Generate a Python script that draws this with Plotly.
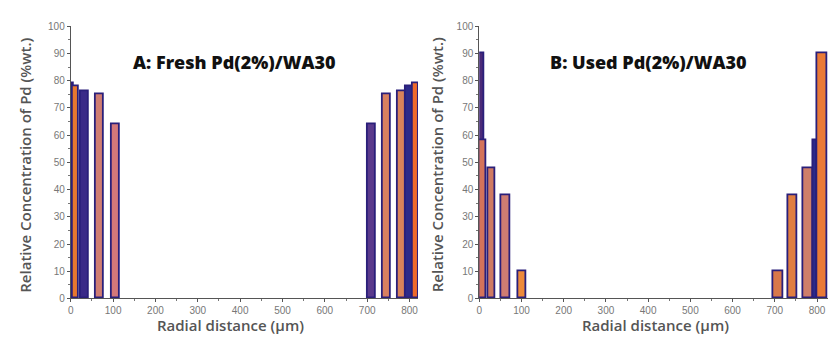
import plotly.graph_objects as go

# Radial Pd profiles across the pellet (µm) and relative Pd concentration (%wt.)
fresh_r = [3, 12, 33, 68, 106, 710, 746, 781, 799, 814]
fresh_pd = [79, 78, 76, 75, 64, 64, 75, 76, 78, 79]

used_r = [5, 9, 30, 63, 102, 708, 743, 779, 795, 813]
used_pd = [90, 58, 48, 38, 10, 10, 38, 48, 58, 90]

x_ticks = [0, 100, 200, 300, 400, 500, 600, 700, 800]
y_ticks = [0, 10, 20, 30, 40, 50, 60, 70, 80, 90, 100]

# bar styling
fresh_width = [6, 16, 18, 20, 18, 19, 18, 18, 18, 14]
fresh_fill = ["#3a1f6e", "#e8782e", "#3a2a88", "#cf7d72", "#d4787a",
              "#5a3a8c", "#d88060", "#d9835a", "#2c2a8a", "#ef6a2a"]
used_width = [12, 16, 18, 22, 20, 22, 22, 22, 10, 24]
used_fill = ["#4a2a78", "#d4735a", "#cf7a62", "#cf7d72", "#ee8a3a",
             "#d9784a", "#e07e40", "#cf7f6a", "#2c2a8a", "#ea7a36"]
outline = "#2a1f7a"

W, H = 829, 349
xa_dom = [68 / W, 416.5 / W]
xb_dom = [478 / W, 828 / W]
y_dom = [(H - 303) / H, (H - 22) / H]

fig = go.Figure()
fig.add_trace(go.Bar(x=fresh_r, y=fresh_pd, width=fresh_width,
                     marker=dict(color=fresh_fill, line=dict(color=outline, width=1.8)),
                     xaxis="x", yaxis="y", showlegend=False))
fig.add_trace(go.Bar(x=used_r, y=used_pd, width=used_width,
                     marker=dict(color=used_fill, line=dict(color=outline, width=1.8)),
                     xaxis="x2", yaxis="y2", showlegend=False))

tickfont = dict(family="Liberation Sans Narrow, Arial Narrow, sans-serif", size=10, color="#777")
axis_common = dict(showgrid=False, zeroline=False, showline=True, linecolor="#555", linewidth=1,
                   ticks="outside", ticklen=3, tickcolor="#555", tickfont=tickfont,
                   minor=dict(ticks="outside", ticklen=2, tickcolor="#777"))

fig.update_layout(
    width=W, height=H, margin=dict(l=0, r=0, t=0, b=0),
    paper_bgcolor="white", plot_bgcolor="white", barmode="overlay", bargap=0,
    xaxis=dict(domain=xa_dom, range=[0, 820], tickvals=x_ticks, anchor="y",
               minor_dtick=50, **axis_common),
    yaxis=dict(domain=y_dom, range=[0, 100], tickvals=y_ticks, anchor="x",
               minor_dtick=5, **axis_common),
    xaxis2=dict(domain=xb_dom, range=[0, 826], tickvals=x_ticks, anchor="y2",
                minor_dtick=50, **axis_common),
    yaxis2=dict(domain=y_dom, range=[0, 100], tickvals=y_ticks, anchor="x2",
                minor_dtick=5, **axis_common),
)

title_font = dict(family="Open Sans, Lato, sans-serif", size=18, color="#111", weight=800)
label_font = dict(family="Open Sans, Lato, sans-serif", size=15, color="#555", weight=600)
ytitle = "Relative Concentration of Pd (%wt.)"
xtitle = "Radial distance (µm)"

ann = [
    dict(text="A: Fresh Pd(2%)/WA30", x=232 / W, y=(H - 59) / H, font=title_font),
    dict(text="B: Used Pd(2%)/WA30", x=648 / W, y=(H - 59) / H, font=title_font),
    dict(text=xtitle, x=228 / W, y=(H - 330) / H, font=label_font),
    dict(text=xtitle, x=655 / W, y=(H - 330) / H, font=label_font),
    dict(text=ytitle, x=22 / W, y=(H - 165) / H, font=label_font, textangle=-90),
    dict(text=ytitle, x=435 / W, y=(H - 165) / H, font=label_font, textangle=-90),
]
for a in ann:
    fig.add_annotation(xref="paper", yref="paper", showarrow=False,
                       xanchor="center", yanchor="middle", **a)

fig.write_html("out.html")
